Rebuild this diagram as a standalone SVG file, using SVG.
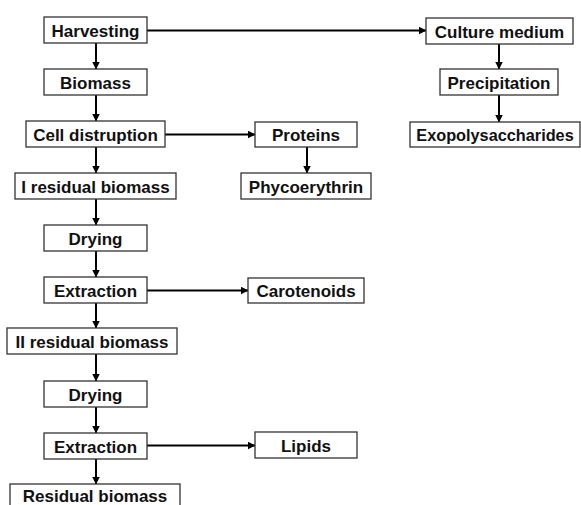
<svg xmlns="http://www.w3.org/2000/svg" width="581" height="505" viewBox="0 0 581 505">
<style>
.b rect{fill:#fff;stroke:#333;stroke-width:1.3}
.b text{font-family:"Liberation Sans",Arial,sans-serif;font-weight:bold;font-size:17px;fill:#111;text-anchor:middle}
.c path{fill:none;stroke:#000;stroke-width:2;marker-end:url(#ah)}
</style>
<defs>
<marker id="ah" viewBox="0 0 8 8" refX="7.5" refY="4" markerWidth="4" markerHeight="4" orient="auto" markerUnits="strokeWidth">
<path d="M0,0 L8,4 L0,8 z" fill="#000"/>
</marker>
</defs>
<rect width="581" height="505" fill="#fff"/>
<g class="c">
<path d="M147,30.5 H426"/>
<path d="M96,43 V69"/>
<path d="M96,95 V121"/>
<path d="M165,134.5 H255"/>
<path d="M96,147 V173"/>
<path d="M307,147 V173"/>
<path d="M96,199 V225"/>
<path d="M96,251 V277"/>
<path d="M147,290.5 H248"/>
<path d="M96,303 V328"/>
<path d="M96,354 V381"/>
<path d="M96,407 V433"/>
<path d="M147,445.5 H255"/>
<path d="M96,459 V484"/>
<path d="M499,44 V69"/>
<path d="M499,95 V122"/>
</g>
<g id="harvesting" class="b"><rect x="44" y="17" width="103" height="26"/><text x="95.5" y="36.5">Harvesting</text></g>
<g id="biomass" class="b"><rect x="44" y="69" width="103" height="26"/><text x="95.5" y="88.5">Biomass</text></g>
<g id="cell" class="b"><rect x="26" y="121" width="139" height="26"/><text x="95.5" y="140.5">Cell distruption</text></g>
<g id="res1" class="b"><rect x="15" y="173" width="161" height="26"/><text x="95.5" y="192.5">I residual biomass</text></g>
<g id="drying1" class="b"><rect x="44" y="225" width="103" height="26"/><text x="95.5" y="244.5">Drying</text></g>
<g id="extraction1" class="b"><rect x="44" y="277" width="103" height="26"/><text x="95.5" y="296.5">Extraction</text></g>
<g id="res2" class="b"><rect x="7" y="328" width="170" height="26"/><text x="92" y="347.5">II residual biomass</text></g>
<g id="drying2" class="b"><rect x="44" y="381" width="103" height="26"/><text x="95.5" y="400.5">Drying</text></g>
<g id="extraction2" class="b"><rect x="44" y="433" width="103" height="26"/><text x="95.5" y="452.5">Extraction</text></g>
<g id="res3" class="b"><rect x="10" y="484" width="170" height="28"/><text x="95" y="502">Residual biomass</text></g>
<g id="proteins" class="b"><rect x="255" y="122" width="102" height="25"/><text x="306" y="141">Proteins</text></g>
<g id="phyco" class="b"><rect x="241" y="173" width="130" height="26"/><text x="306" y="192.5">Phycoerythrin</text></g>
<g id="carot" class="b"><rect x="248" y="278" width="116" height="25"/><text x="306" y="297">Carotenoids</text></g>
<g id="lipids" class="b"><rect x="255" y="432" width="102" height="26"/><text x="306" y="451.5">Lipids</text></g>
<g id="culture" class="b"><rect x="426" y="18" width="147" height="26"/><text x="499.5" y="37.5">Culture medium</text></g>
<g id="precip" class="b"><rect x="440" y="69" width="118" height="26"/><text x="499" y="88.5">Precipitation</text></g>
<g id="exo" class="b"><rect x="410" y="122" width="170" height="25"/><text x="495" y="141" style="font-size:16.3px">Exopolysaccharides</text></g>
</svg>
